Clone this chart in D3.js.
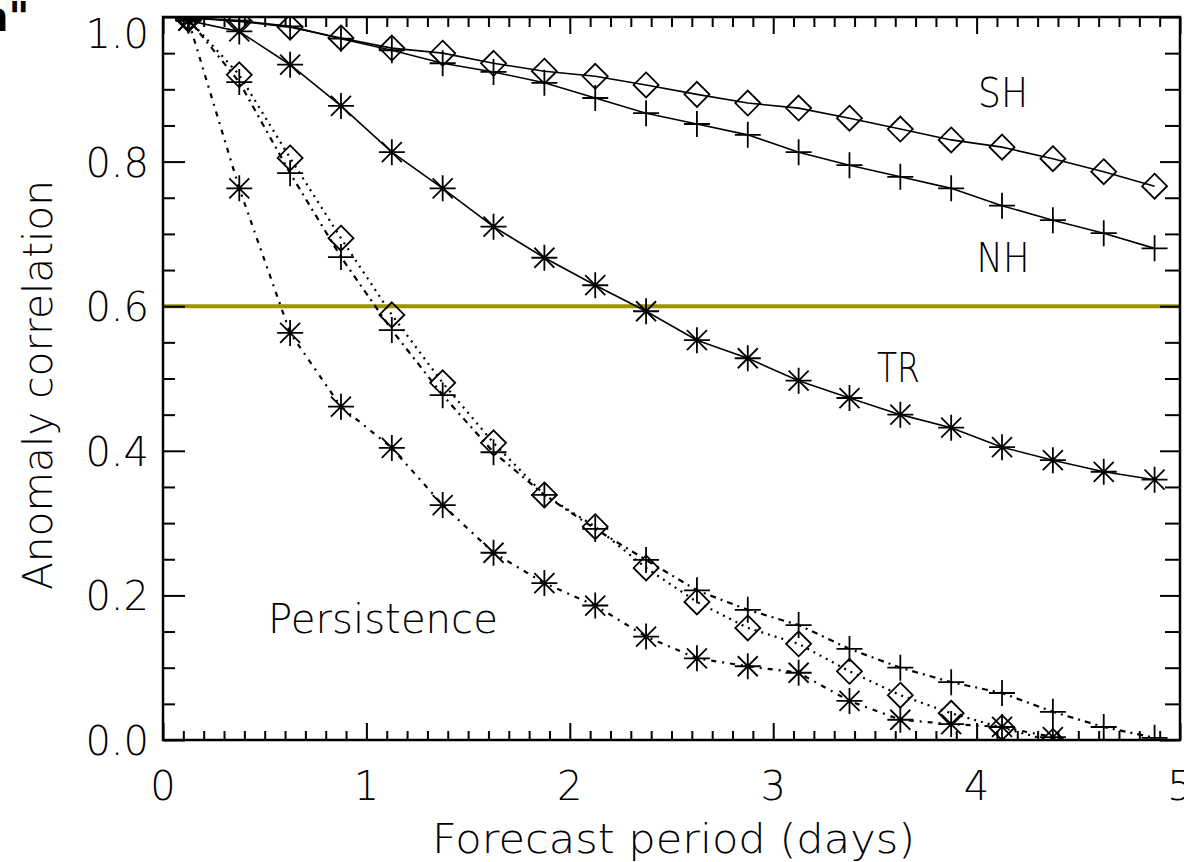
<!DOCTYPE html>
<html>
<head>
<meta charset="utf-8">
<script src="https://cdn.jsdelivr.net/npm/d3@7"></script>
<style>
  html, body { margin: 0; padding: 0; background: #fff; }
  svg { display: block; }
  text { font-family: "DejaVu Sans", "Liberation Sans", sans-serif; font-weight: 200; fill: #000; }
</style>
</head>
<body>
<svg id="chart" width="1184" height="862"></svg>
<script>
// ---------------- data ----------------
const days = [0.125, 0.375, 0.625, 0.875, 1.125, 1.375, 1.625, 1.875, 2.125, 2.375,
              2.625, 2.875, 3.125, 3.375, 3.625, 3.875, 4.125, 4.375, 4.625, 4.875];

const forecastSH = [0.999, 0.994, 0.986, 0.971, 0.957, 0.950, 0.936, 0.925, 0.918, 0.906,
                    0.893, 0.881, 0.874, 0.860, 0.845, 0.830, 0.820, 0.804, 0.786, 0.766];
const forecastNH = [0.999, 0.995, 0.987, 0.970, 0.954, 0.936, 0.924, 0.909, 0.888, 0.867,
                    0.852, 0.837, 0.813, 0.795, 0.779, 0.763, 0.739, 0.719, 0.701, 0.680];
const forecastTR = [0.995, 0.980, 0.934, 0.877, 0.813, 0.763, 0.710, 0.667, 0.629, 0.593,
                    0.553, 0.528, 0.497, 0.473, 0.450, 0.432, 0.405, 0.387, 0.371, 0.360];

const persistSH = [0.997, 0.920, 0.805, 0.694, 0.588, 0.494, 0.411, 0.339, 0.295, 0.238,
                   0.191, 0.155, 0.133, 0.095, 0.062, 0.037, 0.017, -0.002, -0.020, -0.035];
const persistNH = [0.997, 0.910, 0.784, 0.668, 0.567, 0.477, 0.398, 0.339, 0.292, 0.249,
                   0.207, 0.180, 0.159, 0.126, 0.100, 0.080, 0.065, 0.039, 0.018, 0.003];
const persistTR = [0.995, 0.763, 0.563, 0.461, 0.404, 0.325, 0.259, 0.217, 0.186, 0.143,
                   0.113, 0.102, 0.093, 0.054, 0.028, 0.022, 0.018, 0.004, -0.015, -0.030];

const threshold = 0.6;

const xTickValues = [0, 1, 2, 3, 4, 5];
const xTickLabels = ["0", "1", "2", "3", "4", "5"];
const yTickValues = [0.0, 0.2, 0.4, 0.6, 0.8, 1.0];
const yTickLabels = ["0.0", "0.2", "0.4", "0.6", "0.8", "1.0"];

const xTitle = "Forecast period (days)";
const yTitle = "Anomaly correlation";

const annotations = [
  { text: "SH", x: 4.007, y: 0.875, w: 50 },
  { text: "NH", x: 4.000, y: 0.647, w: 53 },
  { text: "TR", x: 3.510, y: 0.495, w: 43 },
  { text: "Persistence", x: 0.516, y: 0.148, w: 230 }
];

const series = [
  { values: forecastSH, marker: "diamond",  dash: null },
  { values: forecastNH, marker: "plus",     dash: null },
  { values: forecastTR, marker: "asterisk", dash: null },
  { values: persistSH,  marker: "diamond",  dash: "2,5" },
  { values: persistNH,  marker: "plus",     dash: "6,5,2,5" },
  { values: persistTR,  marker: "asterisk", dash: "5,6,2,6" }
];

// ---------------- layout ----------------
const L = 163, R = 1180, T = 17, B = 740;
const svg = d3.select("#chart");
const x = d3.scaleLinear().domain([0, 5]).range([L, R]);
const y = d3.scaleLinear().domain([0, 1]).range([B, T]);

svg.append("defs").append("clipPath").attr("id", "plotclip")
  .append("rect").attr("x", L).attr("y", T).attr("width", R - L).attr("height", B - T);

// threshold line
svg.append("line")
  .attr("x1", x(0)).attr("x2", x(5))
  .attr("y1", y(threshold)).attr("y2", y(threshold))
  .attr("stroke", "#9a9500").attr("stroke-width", 4);

// series
const plot = svg.append("g").attr("clip-path", "url(#plotclip)");
const line = d3.line().x((d, i) => x(days[i])).y(d => y(d));

function markerPath(type) {
  const r = 12.5;
  if (type === "diamond") return `M0,${-r}L${r},0L0,${r}L${-r},0Z`;
  if (type === "plus") return `M${-13},0H13M0,${-13}V13`;
  const d = 10;
  return `M${-13},0H13M0,${-13}V13M${-d},${-d}L${d},${d}M${-d},${d}L${d},${-d}`;
}

series.forEach(s => {
  const p = plot.append("path")
    .attr("d", line(s.values))
    .attr("fill", "none")
    .attr("stroke", "#000")
    .attr("stroke-width", s.dash ? 2.2 : 1.6);
  if (s.dash) p.attr("stroke-dasharray", s.dash);
  plot.selectAll(null).data(s.values).enter().append("path")
    .attr("transform", (d, i) => `translate(${x(days[i])},${y(d)})`)
    .attr("d", markerPath(s.marker))
    .attr("fill", "none")
    .attr("stroke", "#000")
    .attr("stroke-width", 1.8);
});

// axes (ticks pointing inward)
function styleAxis(g) {
  g.select(".domain").remove();
  g.selectAll(".tick line").attr("stroke", "#000").attr("stroke-width", 2);
  g.selectAll(".tick text").remove();
}
const xMinor = d3.range(0, 5.0001, 0.1).map(v => +v.toFixed(1)).filter(v => !xTickValues.includes(v));
const yMinor = d3.range(0, 1.0001, 0.05).map(v => +v.toFixed(2)).filter(v => !yTickValues.includes(v));

svg.append("g").attr("transform", `translate(0,${B})`)
  .call(d3.axisBottom(x).tickValues(xTickValues).tickSize(-17)).call(styleAxis);
svg.append("g").attr("transform", `translate(0,${B})`)
  .call(d3.axisBottom(x).tickValues(xMinor).tickSize(-9)).call(styleAxis);
svg.append("g").attr("transform", `translate(0,${T})`)
  .call(d3.axisTop(x).tickValues(xTickValues).tickSize(-17)).call(styleAxis);
svg.append("g").attr("transform", `translate(0,${T})`)
  .call(d3.axisTop(x).tickValues(xMinor).tickSize(-10)).call(styleAxis);
svg.append("g").attr("transform", `translate(${L},0)`)
  .call(d3.axisLeft(y).tickValues(yTickValues).tickSize(-22)).call(styleAxis);
svg.append("g").attr("transform", `translate(${L},0)`)
  .call(d3.axisLeft(y).tickValues(yMinor).tickSize(-12)).call(styleAxis);
svg.append("g").attr("transform", `translate(${R},0)`)
  .call(d3.axisRight(y).tickValues(yTickValues).tickSize(-20)).call(styleAxis);
svg.append("g").attr("transform", `translate(${R},0)`)
  .call(d3.axisRight(y).tickValues(yMinor).tickSize(-15)).call(styleAxis);

// frame
svg.append("rect").attr("x", L).attr("y", T).attr("width", R - L).attr("height", B - T)
  .attr("fill", "none").attr("stroke", "#000").attr("stroke-width", 2.5);

// tick labels
svg.append("g").selectAll("text").data(xTickValues).enter().append("text")
  .attr("x", d => x(d)).attr("y", 800)
  .attr("text-anchor", "middle").attr("font-size", 40)
  .text((d, i) => xTickLabels[i]);
svg.append("g").selectAll("text").data(yTickValues).enter().append("text")
  .attr("x", 149)
  .attr("y", d => (d === 1 ? y(d) + 16 : y(d)) + 15)
  .attr("text-anchor", "end").attr("font-size", 40)
  .text((d, i) => yTickLabels[i]);

// axis titles
svg.append("text").attr("x", 432).attr("y", 853).attr("font-size", 41)
  .attr("textLength", 483).attr("lengthAdjust", "spacingAndGlyphs").text(xTitle);
svg.append("text").attr("transform", "translate(52,590) rotate(-90)")
  .attr("font-size", 41).attr("textLength", 410).attr("lengthAdjust", "spacingAndGlyphs")
  .text(yTitle);

// annotations
svg.append("g").selectAll("text").data(annotations).enter().append("text")
  .attr("x", d => x(d.x)).attr("y", d => y(d.y))
  .attr("font-size", 41)
  .attr("textLength", d => d.w).attr("lengthAdjust", "spacingAndGlyphs")
  .text(d => d.text);

// fragment of text at top-left corner (cut off in the original figure)
svg.append("text").attr("x", -20).attr("y", 31).attr("text-anchor", "start")
  .style("font-weight", "bold").attr("font-size", 40).text("n\"");
</script>
</body>
</html>
